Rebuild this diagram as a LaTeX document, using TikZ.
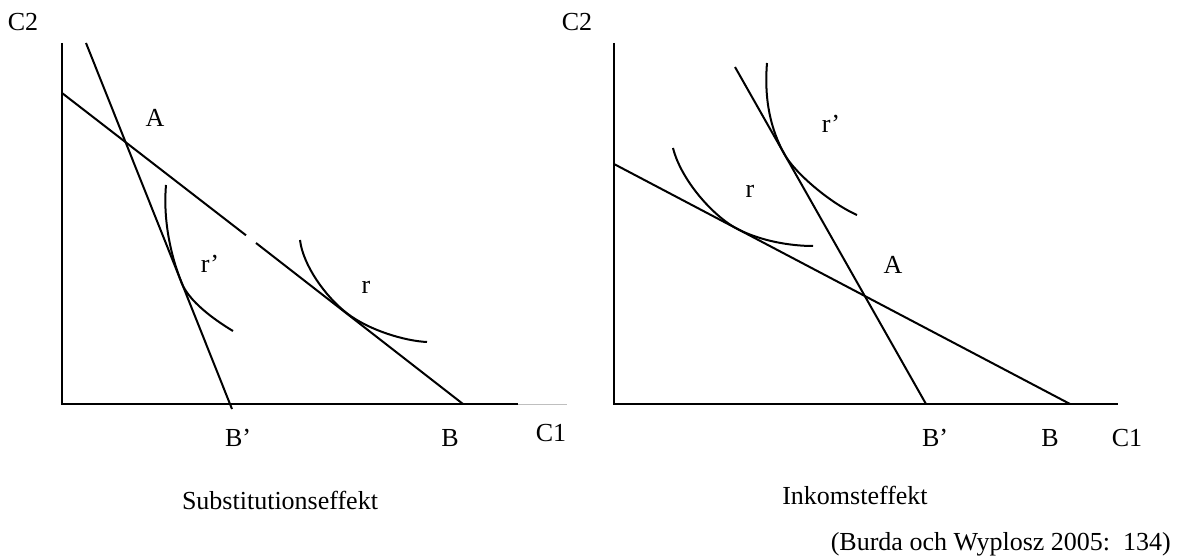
\documentclass[tikz,border=0pt]{standalone}
\usepackage{fontspec}
\setmainfont{Liberation Serif}
\begin{document}
\begin{tikzpicture}[x=1pt,y=-1pt,
  lbl/.style={inner sep=0pt, anchor=base, font=\fontsize{26}{31}\selectfont},
  axisline/.style={line width=2.4pt},
  budget/.style={line width=2pt},
  indiff/.style={line width=2pt},
  ext/.style={line width=1pt, gray!50}]
\useasboundingbox (0,0) rectangle (1179,556);
% ---------- left panel: Substitutionseffekt ----------
\coordinate (O1) at (62,404);
\coordinate (Y1) at (62,43);
\coordinate (X1) at (518,404);
\coordinate (X1g) at (567,404);
\coordinate (F1s) at (62,93);
\coordinate (F1a) at (246,235.3);
\coordinate (F1b) at (256,243.0);
\coordinate (F1e) at (463,404);
\coordinate (S1s) at (86,43);
\coordinate (S1e) at (232,409);
\draw[axisline] (Y1) -- (O1) -- (X1);
\draw[ext] (X1) -- (X1g);
\draw[budget] (F1s) -- (F1a);
\draw[budget] (F1b) -- (F1e);
\draw[budget] (S1s) -- (S1e);
\draw[indiff] (166,185) .. controls (163,220) and (170.5,255) .. (181.7,283)
               .. controls (188.9,301) and (213,319) .. (233,331);
\draw[indiff] (300,240) .. controls (303,265) and (325,296.3) .. (347,313.3)
               .. controls (369,330.3) and (405,341) .. (427,342);
\node[lbl] (c2l) at (23,30.6) {C2};
\node[lbl] (al) at (155,126.6) {A};
\node[lbl] (rpl) at (210,273) {r’};
\node[lbl] (rl) at (366,294) {r};
\node[lbl] (bpl) at (238,446) {B’};
\node[lbl] (bl) at (450,446) {B};
\node[lbl] (c1l) at (551,441) {C1};
\node[lbl] (subst) at (280,509) {Substitutionseffekt};
% ---------- right panel: Inkomsteffekt ----------
\coordinate (O2) at (614,404);
\coordinate (Y2) at (614,43);
\coordinate (X2) at (1118,404);
\coordinate (F2s) at (614,164);
\coordinate (F2e) at (1070,404);
\coordinate (S2s) at (735,67);
\coordinate (S2e) at (926,404);
\draw[axisline] (Y2) -- (O2) -- (X2);
\draw[budget] (F2s) -- (F2e);
\draw[budget] (S2s) -- (S2e);
\draw[indiff] (767,63) .. controls (764,100) and (770.7,130) .. (784.9,155)
               .. controls (795.1,173) and (830,203) .. (857,215);
\draw[indiff] (673,148) .. controls (681,180) and (713,216.1) .. (737,228.7)
               .. controls (760,240.8) and (790,246) .. (813,246);
\node[lbl] (c2r) at (577,30.6) {C2};
\node[lbl] (ar) at (893,273.6) {A};
\node[lbl] (rpr) at (831,133) {r’};
\node[lbl] (rr) at (750,198) {r};
\node[lbl] (bpr) at (935,446.6) {B’};
\node[lbl] (br) at (1050,446.6) {B};
\node[lbl] (c1r) at (1127,446.6) {C1};
\node[lbl] (inkom) at (855,504.3) {Inkomsteffekt};
\node[lbl, anchor=base east] (src) at (1171,550) {(Burda och Wyplosz 2005:~~134)};
\end{tikzpicture}
\end{document}
